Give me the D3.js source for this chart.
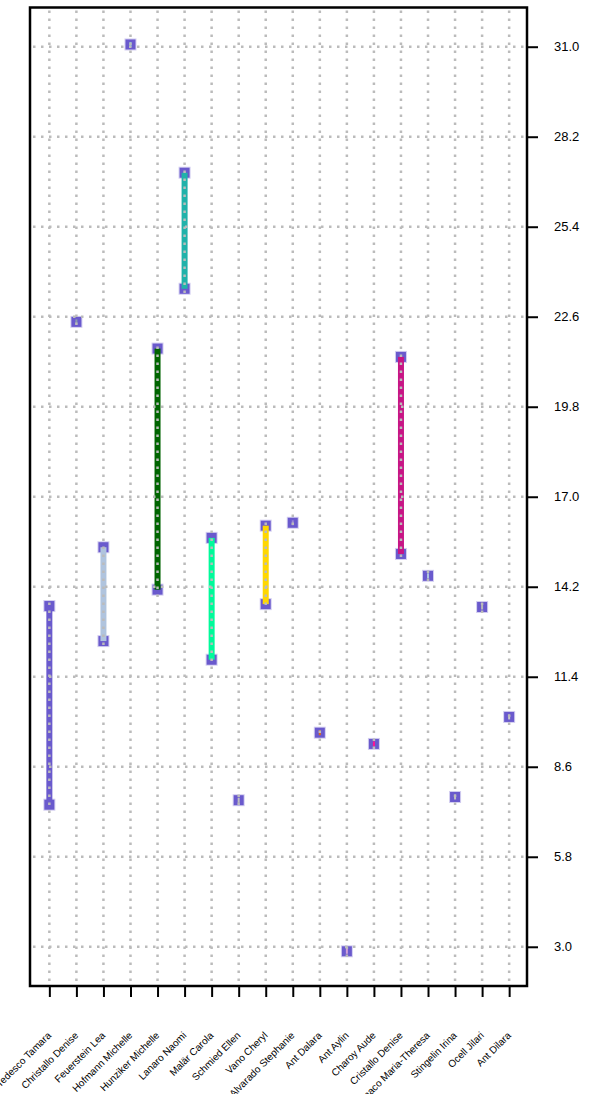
<!DOCTYPE html>
<html><head><meta charset="utf-8">
<script src="https://cdn.jsdelivr.net/npm/d3@7"></script>
<style>html,body{margin:0;padding:0;background:#fff;}svg{display:block;}</style>
</head><body>
<svg id="chart" width="592" height="1094"></svg>
<script>
const categories = ["Tedesco Tamara","Christallo Denise","Feuerstein Lea","Hofmann Michelle","Hunziker Michelle","Lanaro Naomi","Malär Carola","Schmied Ellen","Vano Cheryl","Alvarado Stephanie","Ant Dalara","Ant Aylin","Charoy Aude","Cristallo Denise","Monaco Maria-Theresa","Stingelin Irina","Ocell Jilari","Ant Dilara"];
const lowValues  = [7.42, 22.44, 12.51, 31.07, 14.11, 23.47, 11.93, 7.56, 13.66, 16.19, 9.66, 2.86, 9.31, 15.22, 14.54, 7.66, 13.57, 10.15];
const highValues = [13.60, 22.44, 15.43, 31.07, 21.61, 27.08, 15.72, 7.56, 16.10, 16.19, 9.66, 2.86, 9.31, 21.35, 14.54, 7.66, 13.57, 10.15];
const barColors = ["#6a5acd","#8a9ab0","#b0c4de","#7fc8d8","#006400","#20b2aa","#00fa9a","#c0c0c0","#ffd700","#9a8ad8","#e06a10","#d0a0d8","#ff1493","#c71585","#b0c4de","#c0c0c0","#b8b8b8","#c8c8c8"];
const yTickValues = [3.0, 5.8, 8.6, 11.4, 14.2, 17.0, 19.8, 22.6, 25.4, 28.2, 31.0];

const svg = d3.select("#chart");
const L = 30, R = 527, T = 7.5, B = 986;
const x = d3.scalePoint().domain(categories).range([31.5, 527]).padding(0.66);
const y = d3.scaleLinear().domain([1.78, 32.22]).range([B, T]);

svg.append("rect").attr("width",592).attr("height",1094).attr("fill","#fff");

const data = categories.map((c,i)=>({c, lo: lowValues[i], hi: highValues[i], col: barColors[i]}));

// markers
const mk = svg.append("g");
data.forEach(d=>{
  const vals = d.lo === d.hi ? [d.lo] : [d.lo, d.hi];
  vals.forEach(v=>{
    mk.append("rect")
      .attr("x", x(d.c)-5).attr("y", y(v)-5).attr("width",10).attr("height",10)
      .attr("fill","#6a5acd").attr("stroke","#6a5acd").attr("stroke-opacity",0.3).attr("stroke-width",2);
  });
});

// bars
const bars = svg.append("g");
data.forEach(d=>{
  if (d.lo === d.hi) {
    bars.append("rect").attr("x", x(d.c)-1).attr("y", y(d.hi)-2.5).attr("width",2).attr("height",5).attr("fill", d.col);
  } else {
    bars.append("rect").attr("x", x(d.c)-3).attr("y", y(d.hi)).attr("width",6).attr("height", y(d.lo)-y(d.hi)).attr("fill", d.col);
  }
});

// grid on top
const grid = svg.append("g").attr("stroke","#bbbbbb").attr("stroke-width",2.5).attr("stroke-dasharray","2.5,5.5");
categories.forEach(c=>{
  grid.append("line").attr("x1",x(c)).attr("x2",x(c)).attr("y1",T+3).attr("y2",B);
});
yTickValues.forEach(v=>{
  grid.append("line").attr("x1",L+3).attr("x2",R).attr("y1",y(v)).attr("y2",y(v));
});

// axes
const yAxis = svg.append("g").attr("transform",`translate(${R},0)`)
  .call(d3.axisRight(y).tickValues(yTickValues).tickFormat(d3.format(".1f")).tickSize(11).tickPadding(16));
yAxis.select(".domain").remove();
yAxis.selectAll(".tick line").attr("stroke","#000").attr("stroke-width",2);
yAxis.selectAll(".tick text").attr("font-family","'Liberation Sans', Arial, sans-serif").attr("font-size",13).attr("fill","#000");

const xAxis = svg.append("g").attr("transform",`translate(0,${B})`)
  .call(d3.axisBottom(x).tickSize(11));
xAxis.select(".domain").remove();
xAxis.selectAll(".tick line").attr("stroke","#000").attr("stroke-width",2);
xAxis.selectAll(".tick text")
  .attr("font-family","'Liberation Sans', Arial, sans-serif").attr("font-size",10).attr("fill","#000")
  .attr("text-anchor","end").attr("y",0).attr("dy",0)
  .attr("transform","translate(2,50) rotate(-45)");

// frame
svg.append("rect").attr("x",L).attr("y",T).attr("width",R-L).attr("height",B-T)
  .attr("fill","none").attr("stroke","#000").attr("stroke-width",2.5);
</script>
</body></html>
